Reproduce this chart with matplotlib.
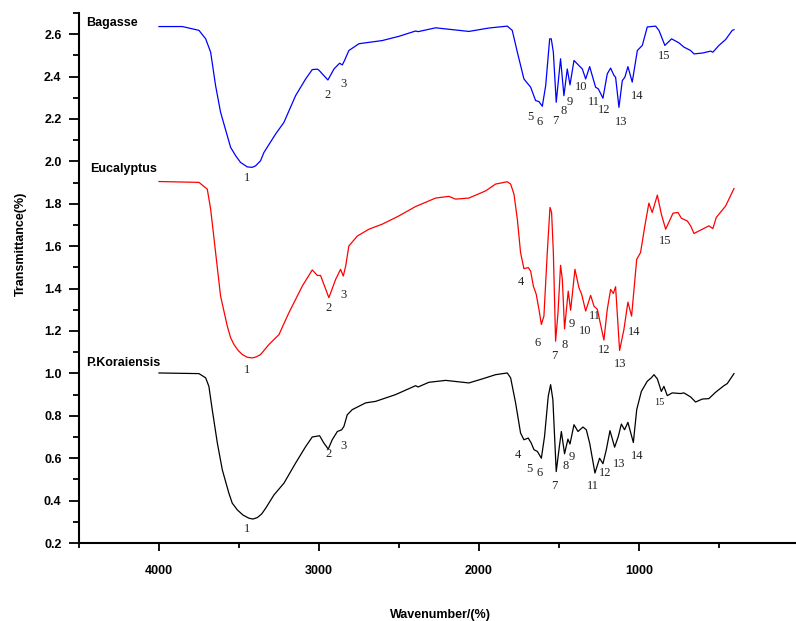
"""
FTIR spectra of bagasse, eucalyptus and P. koraiensis
three curves stacked on one axis, peaks numbered
"""
import matplotlib
matplotlib.use("Agg")
import matplotlib.pyplot as plt
from matplotlib.ticker import MultipleLocator, FixedLocator, FormatStrFormatter

plt.rcParams["font.family"] = ["Liberation Sans", "DejaVu Sans"]

# ---- data (wavenumber cm-1, transmittance) ----
bagasse_wn = [4000, 3854, 3750, 3708, 3677, 3646, 3615, 3573, 3552, 3521,
              3490, 3448, 3417, 3396, 3365, 3344, 3271, 3219, 3146, 3083,
              3042, 3010, 3000, 2944, 2906, 2871, 2854, 2840, 2813, 2750,
              2604, 2500, 2396, 2380, 2271, 2063, 1938, 1823, 1792, 1760,
              1719, 1677, 1646, 1625, 1604, 1583, 1558, 1548, 1535, 1517,
              1490, 1469, 1448, 1431, 1406, 1375, 1354, 1333, 1308, 1271,
              1254, 1225, 1198, 1177, 1156, 1146, 1125, 1104, 1088, 1069,
              1042, 1010, 979, 948, 896, 875, 838, 796, 750, 719,
              677, 656, 604, 552, 538, 500, 458, 417, 406]
bagasse_t = [2.636, 2.636, 2.618, 2.578, 2.515, 2.357, 2.232, 2.121, 2.066, 2.027,
             1.995, 1.974, 1.972, 1.979, 2.003, 2.042, 2.129, 2.184, 2.310, 2.389,
             2.433, 2.435, 2.430, 2.384, 2.436, 2.463, 2.455, 2.476, 2.523, 2.555,
             2.570, 2.590, 2.615, 2.612, 2.630, 2.613, 2.629, 2.638, 2.618, 2.515,
             2.389, 2.350, 2.287, 2.282, 2.260, 2.357, 2.578, 2.578, 2.515, 2.279,
             2.484, 2.310, 2.436, 2.361, 2.476, 2.452, 2.436, 2.389, 2.447, 2.350,
             2.342, 2.298, 2.413, 2.440, 2.405, 2.397, 2.255, 2.381, 2.397, 2.447,
             2.374, 2.523, 2.547, 2.634, 2.638, 2.618, 2.547, 2.578, 2.559, 2.539,
             2.523, 2.507, 2.511, 2.520, 2.515, 2.547, 2.575, 2.618, 2.621]

eucalyptus_wn = [4000, 3750, 3698, 3677, 3646, 3615, 3573, 3552, 3531, 3505,
                 3479, 3448, 3417, 3391, 3365, 3313, 3250, 3188, 3104, 3042,
                 3010, 2990, 2938, 2896, 2865, 2848, 2833, 2813, 2760, 2688,
                 2604, 2500, 2396, 2271, 2188, 2146, 2063, 1958, 1896, 1823,
                 1802, 1781, 1760, 1740, 1719, 1692, 1677, 1660, 1642, 1625,
                 1610, 1594, 1573, 1556, 1546, 1535, 1521, 1506, 1490, 1479,
                 1465, 1442, 1427, 1400, 1375, 1358, 1333, 1302, 1281, 1260,
                 1219, 1198, 1177, 1160, 1146, 1121, 1094, 1069, 1046, 1014,
                 990, 963, 938, 917, 885, 860, 833, 787, 756, 735,
                 698, 677, 656, 604, 563, 538, 517, 458, 406]
eucalyptus_t = [1.905, 1.901, 1.869, 1.775, 1.570, 1.365, 1.223, 1.168, 1.136, 1.108,
                1.089, 1.076, 1.073, 1.078, 1.089, 1.136, 1.183, 1.286, 1.412, 1.488,
                1.462, 1.462, 1.357, 1.443, 1.491, 1.459, 1.506, 1.601, 1.648, 1.680,
                1.704, 1.743, 1.787, 1.827, 1.835, 1.822, 1.827, 1.861, 1.893, 1.904,
                1.893, 1.845, 1.727, 1.570, 1.494, 1.499, 1.483, 1.412, 1.373, 1.302,
                1.231, 1.270, 1.570, 1.783, 1.759, 1.570, 1.152, 1.286, 1.510, 1.444,
                1.210, 1.388, 1.298, 1.491, 1.404, 1.373, 1.294, 1.368, 1.317, 1.302,
                1.157, 1.302, 1.396, 1.377, 1.409, 1.108, 1.207, 1.336, 1.270, 1.538,
                1.570, 1.696, 1.803, 1.759, 1.841, 1.751, 1.680, 1.756, 1.759, 1.732,
                1.719, 1.696, 1.660, 1.680, 1.696, 1.683, 1.735, 1.790, 1.872]

koraiensis_wn = [4000, 3750, 3708, 3688, 3667, 3635, 3604, 3563, 3542, 3510,
                 3475, 3438, 3413, 3385, 3358, 3333, 3281, 3219, 3146, 3083,
                 3042, 2996, 2969, 2942, 2917, 2885, 2858, 2844, 2823, 2792,
                 2708, 2646, 2521, 2396, 2380, 2313, 2208, 2063, 1979, 1896,
                 1823, 1802, 1771, 1740, 1719, 1692, 1673, 1656, 1635, 1610,
                 1590, 1567, 1552, 1538, 1517, 1500, 1485, 1465, 1444, 1431,
                 1406, 1381, 1350, 1329, 1308, 1275, 1246, 1225, 1204, 1181,
                 1152, 1129, 1110, 1090, 1069, 1035, 1014, 985, 948, 923,
                 906, 885, 860, 844, 823, 792, 740, 719, 677, 646,
                 604, 563, 521, 469, 448, 406]
koraiensis_t = [1.002, 0.999, 0.979, 0.939, 0.829, 0.671, 0.545, 0.435, 0.388, 0.356,
                0.332, 0.317, 0.313, 0.320, 0.337, 0.364, 0.427, 0.482, 0.577, 0.655,
                0.700, 0.706, 0.671, 0.643, 0.687, 0.726, 0.734, 0.750, 0.805, 0.829,
                0.861, 0.868, 0.900, 0.942, 0.936, 0.958, 0.967, 0.955, 0.974, 0.994,
                1.002, 0.979, 0.861, 0.719, 0.687, 0.695, 0.671, 0.640, 0.632, 0.600,
                0.703, 0.892, 0.947, 0.876, 0.537, 0.640, 0.726, 0.621, 0.690, 0.667,
                0.758, 0.726, 0.747, 0.734, 0.671, 0.530, 0.600, 0.574, 0.640, 0.730,
                0.652, 0.703, 0.761, 0.734, 0.769, 0.674, 0.829, 0.915, 0.963, 0.979,
                0.994, 0.974, 0.915, 0.939, 0.895, 0.908, 0.905, 0.908, 0.889, 0.865,
                0.879, 0.881, 0.911, 0.942, 0.952, 0.999]

# peak numbers and where they sit (wavenumber, transmittance)
bagasse_peaks = ["1", "2", "3", "5", "6", "7", "8", "9", "10", "11", "12", "13", "14", "15"]
bagasse_peak_wn = [3452, 2948, 2848, 1681, 1619, 1521, 1469, 1433, 1360, 1281, 1215, 1108, 1014, 840]
bagasse_peak_t = [1.92, 2.313, 2.366, 2.208, 2.184, 2.192, 2.239, 2.279, 2.353, 2.279, 2.244, 2.187, 2.310, 2.495]

eucalyptus_peaks = ["1", "2", "3", "4", "6", "7", "8", "9", "10", "11", "12", "13", "14", "15"]
eucalyptus_peak_wn = [3448, 2938, 2848, 1740, 1631, 1527, 1465, 1417, 1338, 1275, 1219, 1115, 1027, 833]
eucalyptus_peak_t = [1.018, 1.310, 1.368, 1.433, 1.144, 1.084, 1.136, 1.235, 1.202, 1.270, 1.109, 1.042, 1.194, 1.625]

koraiensis_peaks = ["1", "2", "3", "4", "5", "6", "7", "8", "9", "11", "12", "13", "14", "15"]
koraiensis_peak_wn = [3452, 2938, 2848, 1754, 1683, 1619, 1531, 1458, 1421, 1285, 1208, 1121, 1010, 875]
koraiensis_peak_t = [0.265, 0.619, 0.659, 0.616, 0.548, 0.532, 0.470, 0.561, 0.605, 0.470, 0.530, 0.572, 0.611, 0.861]

series = [
    ("Bagasse", bagasse_wn, bagasse_t, "#0000FF",
     bagasse_peaks, bagasse_peak_wn, bagasse_peak_t, (4456, 2.654)),
    ("Eucalyptus", eucalyptus_wn, eucalyptus_t, "#FF0000",
     eucalyptus_peaks, eucalyptus_peak_wn, eucalyptus_peak_t, (4431, 1.964)),
    ("P.Koraiensis", koraiensis_wn, koraiensis_t, "#000000",
     koraiensis_peaks, koraiensis_peak_wn, koraiensis_peak_t, (4456, 1.051)),
]

fig = plt.figure(figsize=(7.96, 6.21), dpi=100, facecolor="white")
ax = fig.add_axes([0.0992, 0.1256, 0.9045, 0.8535])

for name, wn, t, color, peaks, pwn, pt, name_pos in series:
    ax.plot(wn, t, color=color, linewidth=0.9)
    ax.text(name_pos[0], name_pos[1], name, fontsize=9, fontweight="bold",
            ha="left", va="center", color="black")
    for lab, x, y in zip(peaks, pwn, pt):
        size = 7.5 if (name == "P.Koraiensis" and lab == "15") else 9
        ax.text(x, y, lab, fontsize=size, family=["Liberation Serif", "DejaVu Serif"],
                ha="center", va="center", color="#222222")

ax.set_xlim(4500, 0)
ax.set_ylim(0.2, 2.7)

# axis styling: only left and bottom, thick, ticks outward
ax.spines["top"].set_visible(False)
ax.spines["right"].set_visible(False)
ax.spines["left"].set_linewidth(1.5)
ax.spines["bottom"].set_linewidth(1.5)

ax.xaxis.set_major_locator(FixedLocator([4000, 3000, 2000, 1000]))
ax.xaxis.set_minor_locator(FixedLocator([4500, 3500, 2500, 1500, 500]))
ax.xaxis.set_major_formatter(FormatStrFormatter("%d"))
ax.yaxis.set_major_locator(MultipleLocator(0.2))
ax.yaxis.set_minor_locator(MultipleLocator(0.1))
ax.yaxis.set_major_formatter(FormatStrFormatter("%.1f"))

ax.tick_params(axis="y", which="major", direction="out", length=7.5, width=1.3,
               pad=5, labelsize=9)
ax.tick_params(axis="y", which="minor", direction="out", length=4.5, width=1.3)
ax.tick_params(axis="x", which="major", direction="out", length=5.5, width=1.3,
               pad=10, labelsize=9)
ax.tick_params(axis="x", which="minor", direction="out", length=3.5, width=1.3)
for lab in ax.get_xticklabels() + ax.get_yticklabels():
    lab.set_fontweight("bold")

ax.set_ylabel("Transmittance(%)", fontsize=9, fontweight="bold")
ax.yaxis.set_label_coords(-0.073, 0.564)
fig.text(440 / 796, 1 - 615 / 621, "Wavenumber/(%)", fontsize=9,
         fontweight="bold", ha="center", va="center")

fig.savefig("out.png", dpi=100, facecolor="white")
plt.close(fig)
